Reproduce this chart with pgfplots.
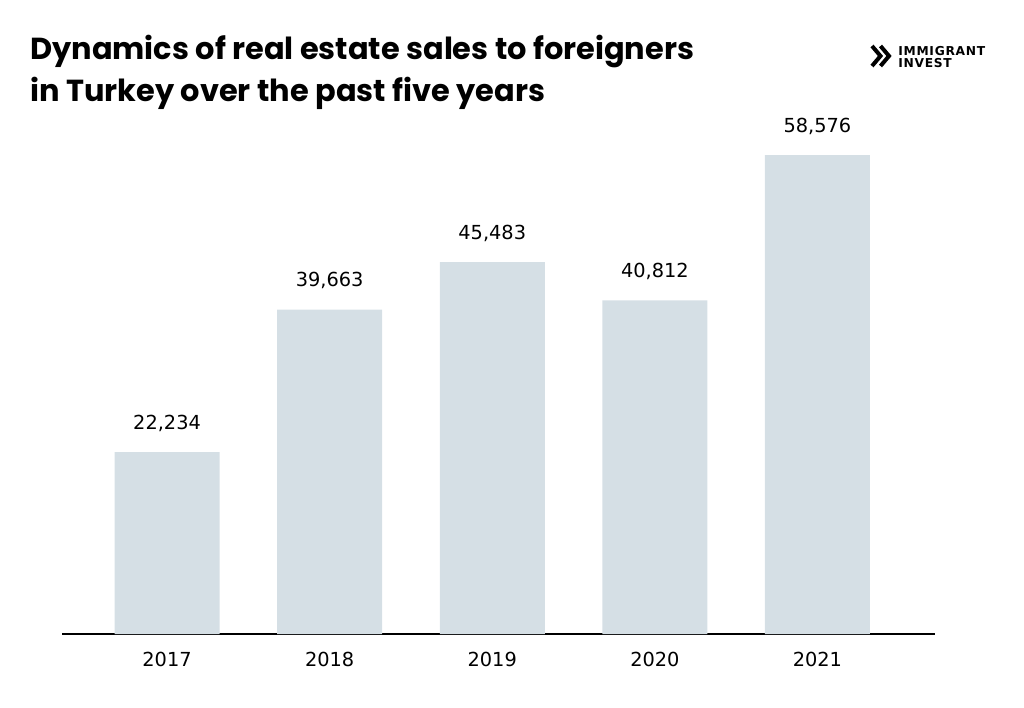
\documentclass[border=0pt]{standalone}
\usepackage{pgfplots}
\pgfplotsset{compat=1.18}
\usepackage{fontspec}
\setmainfont{DejaVu Sans}
\newfontfamily\titlefont{Poppins}
\newfontfamily\logofont{DejaVu Sans}[LetterSpace=6]
\definecolor{barfill}{HTML}{D5DFE5}

\pgfplotstableread{
x year value
0 2017 22234
1 2018 39663
2 2019 45483
3 2020 40812
4 2021 58576
}\salesdata

\begin{document}
\begin{tikzpicture}
\useasboundingbox (0,0) rectangle (768pt,530.25pt);
\begin{axis}[
    at={(46.5pt,54.75pt)}, anchor=south west,
    scale only axis,
    width=654.75pt, height=378pt,
    ybar, bar width=78.75pt,
    xmin=-0.646, xmax=4.723,
    ymin=0, ymax=61634,
    axis y line=none,
    axis x line*=bottom,
    x axis line style={-, line width=1.5pt, black},
    xtick=data,
    xticklabels={2017,2018,2019,2020,2021},
    major tick length=0pt,
    xticklabel style={anchor=base, yshift=-24pt, font=\fontsize{14.5}{17}\selectfont},
    nodes near coords={\pgfmathprintnumber{\pgfplotspointmeta}},
    every node near coord/.append style={anchor=base, yshift=17pt, font=\fontsize{14.5}{17}\selectfont, black},
    /pgf/number format/.cd, 1000 sep={,}, assume math mode=true,
    /pgfplots/.cd,
    clip=false,
]
\addplot[fill=barfill, draw=none] table[x=x, y=value] {\salesdata};
\end{axis}
\begin{scope}[x=0.75pt, y=-0.75pt, yshift=530.25pt]
\node[anchor=base west, inner sep=0, font=\titlefont\bfseries\fontsize{22.8}{27}\selectfont] at (30,60) {Dynamics of real estate sales to foreigners};
\node[anchor=base west, inner sep=0, font=\titlefont\bfseries\fontsize{22.8}{27}\selectfont] at (30,102) {in Turkey over the past five years};
\draw[line width=3pt, line cap=butt, line join=miter] (872,46) -- (880.5,56) -- (872,66);
\draw[line width=3pt, line cap=butt, line join=miter] (880.5,46) -- (889,56) -- (880.5,66);
\node[anchor=base west, inner sep=0, font=\logofont\bfseries\fontsize{9.2}{11}\selectfont] at (898,56) {IMMIGRANT};
\node[anchor=base west, inner sep=0, font=\logofont\bfseries\fontsize{9.2}{11}\selectfont] at (898,68) {INVEST};
\end{scope}
\end{tikzpicture}
\end{document}
